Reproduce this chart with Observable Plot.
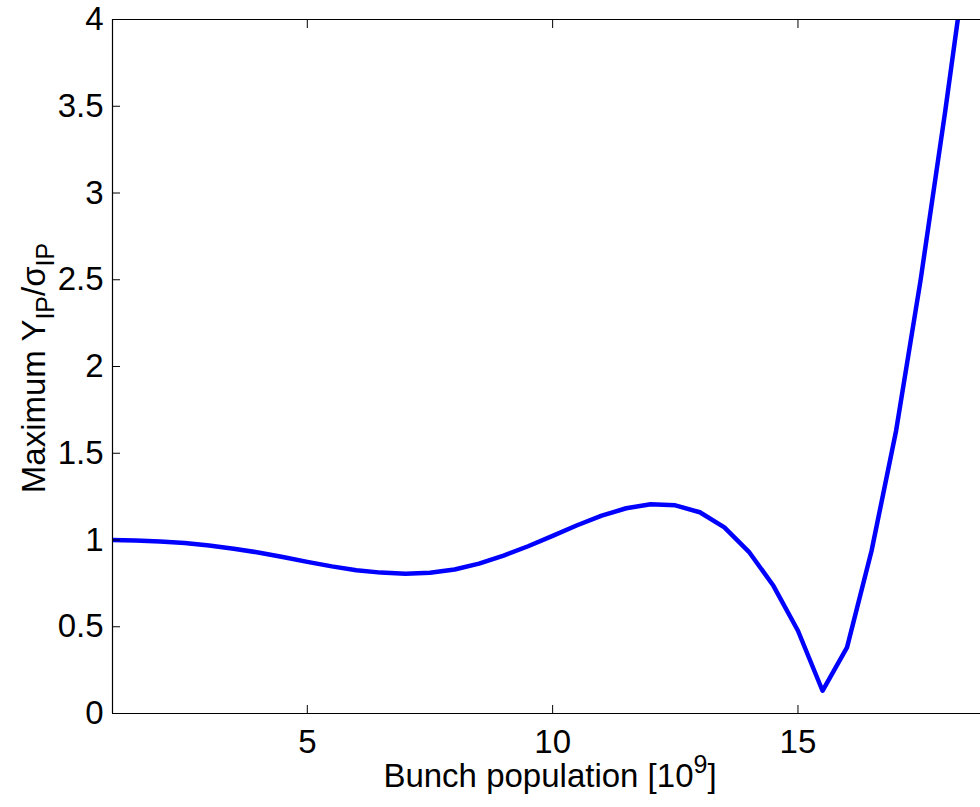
<!DOCTYPE html>
<html>
<head>
<meta charset="utf-8">
<script src="https://cdn.jsdelivr.net/npm/d3@7"></script>
<script src="https://cdn.jsdelivr.net/npm/@observablehq/plot@0.6"></script>
<style>
  body { margin: 0; background: #fff; }
  svg { display: block; }
</style>
</head>
<body>
<div id="chart"></div>
<script>
// Bunch population (units of 1e9) and the maximum vertical IP offset in units of sigma_IP
const population = [1, 1.5, 2, 2.5, 3, 3.5, 4, 4.5, 5, 5.5, 6, 6.5, 7, 7.5, 8, 8.5, 9, 9.5,
  10, 10.5, 11, 11.5, 12, 12.5, 13, 13.5, 14, 14.5, 15, 15.5, 16, 16.5, 17, 17.5, 18, 18.5];
const maxOffset = [1.0, 0.997, 0.992, 0.983, 0.968, 0.95, 0.928, 0.902, 0.874, 0.848, 0.826, 0.812,
  0.806, 0.811, 0.83, 0.864, 0.91, 0.964, 1.024, 1.085, 1.14, 1.183, 1.206, 1.2, 1.16, 1.073,
  0.932, 0.736, 0.477, 0.131, 0.381, 0.938, 1.63, 2.5, 3.47, 4.5];

const xTicks = [5, 10, 15];
const yTicks = [0, 0.5, 1, 1.5, 2, 2.5, 3, 3.5, 4];
const xDomain = [1.03, 18.72];
const yDomain = [0, 4];

const data = population.map((x, i) => ({x, y: maxOffset[i]}));
const font = "'Liberation Sans', Arial, Helvetica, sans-serif";
const fontSize = 33;
const subSize = 25;
const noText = () => "";
const numText = d3.format("~g");

const chart = Plot.plot({
  width: 980,
  height: 807,
  marginLeft: 112,
  marginTop: 19,
  marginBottom: 94,
  marginRight: 0,
  style: {fontFamily: font, fontSize: `${fontSize}px`, background: "#fff", color: "#000", overflow: "visible"},
  x: {domain: xDomain},
  y: {domain: yDomain},
  marks: [
    Plot.line(data, {x: "x", y: "y", stroke: "#0000ff", strokeWidth: 4.5, clip: true}),
    // box edges (left, bottom, top)
    Plot.ruleY([yDomain[0]], {stroke: "#000", strokeWidth: 1.2}),
    Plot.ruleY([yDomain[1]], {stroke: "#000", strokeWidth: 1.2}),
    Plot.ruleX([xDomain[0]], {stroke: "#000", strokeWidth: 1.2}),
    // inward ticks
    Plot.axisX(xTicks, {anchor: "bottom", tickSize: 8, dy: -8, tickFormat: noText, label: null, stroke: "#000"}),
    Plot.axisX(xTicks, {anchor: "top", tickSize: 8, dy: 8, tickFormat: noText, label: null, stroke: "#000"}),
    Plot.axisY(yTicks, {anchor: "left", tickSize: 8, dx: 8, tickFormat: noText, label: null, stroke: "#000"}),
    // tick labels
    Plot.axisX(xTicks, {anchor: "bottom", tickSize: 0, tickPadding: 16, fontSize, tickFormat: numText, label: null, fill: "#000"}),
    Plot.axisY(yTicks, {anchor: "left", tickSize: 0, tickPadding: 9, fontSize, tickFormat: numText, label: null, fill: "#000"})
  ]
});

document.getElementById("chart").append(chart);

// Axis titles with sub/superscripts
const svg = d3.select(chart);
const xl = svg.append("text")
  .attr("x", 550).attr("y", 787)
  .attr("text-anchor", "middle")
  .attr("font-family", font).attr("font-size", fontSize).attr("fill", "#000");
xl.append("tspan").text("Bunch population [10");
xl.append("tspan").attr("font-size", subSize).attr("dy", -14).text("9");
xl.append("tspan").attr("dy", 14).text("]");

const yl = svg.append("text")
  .attr("transform", "translate(45,368) rotate(-90)")
  .attr("text-anchor", "middle")
  .attr("font-family", font).attr("font-size", fontSize).attr("fill", "#000");
yl.append("tspan").text("Maximum Y");
yl.append("tspan").attr("font-size", subSize).attr("dy", 9).text("IP");
yl.append("tspan").attr("dy", -9).text("/σ");
yl.append("tspan").attr("font-size", subSize).attr("dy", 9).text("IP");
</script>
</body>
</html>
